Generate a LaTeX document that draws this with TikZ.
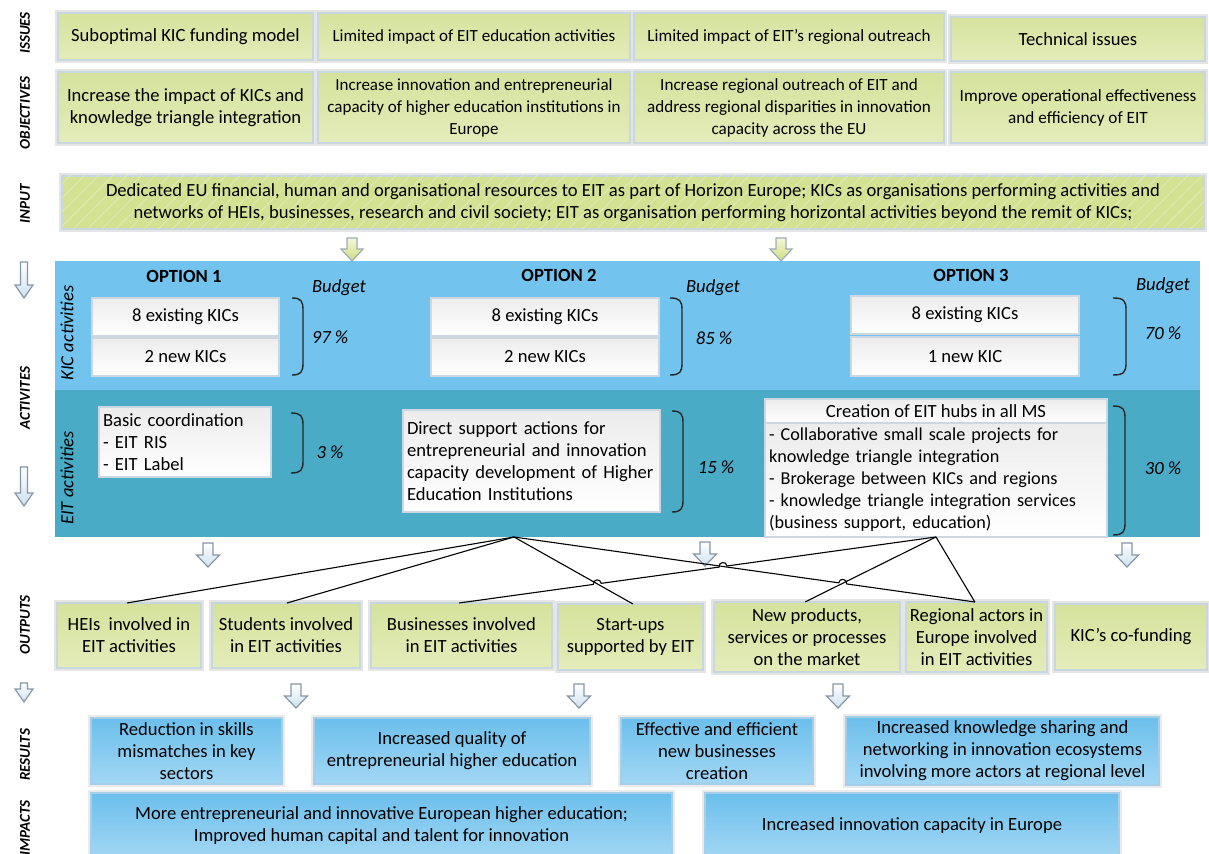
\documentclass[tikz,border=0pt]{standalone}
\usepackage{fontspec}
\setmainfont{Carlito}
\usetikzlibrary{calc,patterns.meta}

\definecolor{gtop}{RGB}{213,226,156}
\definecolor{gbot}{RGB}{228,236,186}
\definecolor{gedge}{RGB}{200,214,224}
\definecolor{kicblue}{RGB}{114,195,238}
\definecolor{eitteal}{RGB}{74,171,198}
\definecolor{btop}{RGB}{108,191,236}
\definecolor{bbot}{RGB}{162,215,244}
\definecolor{bedge}{RGB}{165,207,232}
\definecolor{wtop}{RGB}{236,236,236}
\definecolor{wedge}{RGB}{205,215,225}
\definecolor{inputg}{RGB}{211,226,146}
\definecolor{hatch}{RGB}{222,233,176}
\definecolor{arrline}{RGB}{135,150,165}
\definecolor{arrfill}{RGB}{205,225,240}
\definecolor{garrtop}{RGB}{245,247,215}
\definecolor{garrbot}{RGB}{205,222,130}

\newcommand\mybox[7]{\node[#1, minimum width={(#5-#3)*0.5pt}, minimum height={(#6-#4)*0.5pt}] (#2) at ({(#3+#5)/2},{(#4+#6)/2}) {#7};}
\newcommand\mybrace[4]{\draw[brace] (#1,#2) .. controls (#4-2,#2) and (#4,#2+3) .. (#4,#2+12) -- (#4,#3-12) .. controls (#4,#3-3) and (#4-2,#3) .. (#1,#3);}
\newcommand\defhop[4]{%
  \coordinate (#1p) at ($(#2)!2pt!(#3)$);
  \coordinate (#1q) at ($(#2)!2pt!(#4)$);
  \coordinate (#1c) at ($(#1p)!2.7pt!90:(#2)$);
  \coordinate (#1d) at ($(#1q)!2.7pt!-90:(#2)$);}

\tikzset{
  base/.style={inner sep=2pt, outer sep=0pt, font=\fontsize{9.3}{11}\selectfont, align=center},
  sz/.style={font=\fontsize{#1}{11}\selectfont},
  gbox/.style={base, draw=gedge, line width=0.9pt, top color=gtop, bottom color=gbot,
    preaction={draw=black!10, line width=2.6pt}},
  inbox/.style={base, fill=inputg, draw=gedge, line width=0.9pt,
    preaction={draw=black!10, line width=2.6pt},
    postaction={pattern={Lines[angle=45, distance=5pt, line width=0.5pt]}, pattern color=hatch}},
  wbox/.style={base, draw=wedge, line width=0.7pt, top color=wtop, bottom color=white},
  wleft/.style={wbox, align=left},
  bbox/.style={base, draw=bedge, line width=1.4pt, top color=btop, bottom color=bbot,
    preaction={draw=black!8, line width=3pt}},
  region/.style={inner sep=0pt, outer sep=0pt, draw=none},
  lbl/.style={font=\fontsize{7.5}{9}\selectfont\bfseries\itshape, rotate=90, inner sep=0pt},
  vlbl/.style={font=\fontsize{9.3}{11}\selectfont\itshape, rotate=90, inner sep=0pt},
  ital/.style={font=\fontsize{9.3}{11}\selectfont\itshape, inner sep=0pt},
  opt/.style={font=\fontsize{9.3}{11}\selectfont\bfseries, inner sep=0pt},
  brace/.style={line width=0.7pt, draw=black!85},
  conn/.style={line width=0.55pt, draw=black},
  larrow/.style={draw=arrline, line width=0.6pt, top color=white, bottom color=arrfill},
  sarrow/.style={draw=arrline, line width=0.6pt, top color=white, bottom color=arrfill},
  garrow/.style={draw=arrline!80, line width=0.6pt, top color=garrtop, bottom color=garrbot},
  pics/larr/.style={code={\draw[larrow] (-3.5,0) -- (3.5,0) -- (3.5,#1-13) -- (9,#1-13) -- (0,#1) -- (-9,#1-13) -- (-3.5,#1-13) -- cycle;}},
  pics/sarr/.style={code={\draw[sarrow] (-5,0) -- (5,0) -- (5,12) -- (11.5,12) -- (0,24) -- (-11.5,12) -- (-5,12) -- cycle;}},
  pics/garr/.style={code={\draw[garrow] (-5,0) -- (5,0) -- (5,11) -- (11,11) -- (0,23) -- (-11,11) -- (-5,11) -- cycle;}}
}

\begin{document}
\begin{tikzpicture}[x=0.5pt,y=-0.5pt]
\useasboundingbox (0,0) rectangle (1209,854);

% activity regions
\mybox{region,fill=kicblue}{kicreg}{55}{261}{1200}{390}{}
\mybox{region,fill=eitteal}{eitreg}{55}{390}{1200}{537}{}

% left labels
\node[lbl] (lIss) at (25,33) {ISSUES};
\node[lbl] (lObj) at (25,113) {OBJECTIVES};
\node[lbl] (lInp) at (25,204) {INPUT};
\node[lbl] (lAct) at (25,398) {ACTIVITES};
\node[lbl] (lOut) at (25,625) {OUTPUTS};
\node[lbl] (lRes) at (25,755) {RESULTS};
\node[lbl] (lImp) at (25,828) {IMPACTS};

% issues
\mybox{gbox}{i1}{58}{13}{313}{60}{Suboptimal KIC funding model}
\mybox{gbox,sz=8.5}{i2}{318}{13}{630}{60}{Limited impact of EIT education activities}
\mybox{gbox,sz=8.55}{i3}{634}{13}{944}{60}{Limited impact of EIT’s regional outreach}
\mybox{gbox}{i4}{951}{17}{1205}{61}{Technical issues}

% objectives
\mybox{gbox}{o1}{58}{72}{313}{143}{Increase the impact of KICs and\\knowledge triangle integration}
\mybox{gbox,sz=8.5}{o2}{318}{72}{630}{143}{Increase innovation and entrepreneurial\\capacity of higher education institutions in\\Europe}
\mybox{gbox,sz=8.55}{o3}{634}{72}{944}{143}{Increase regional outreach of EIT and\\address regional disparities in innovation\\capacity across the EU}
\mybox{gbox,sz=8.6}{o4}{951}{72}{1205}{143}{Improve operational effectiveness\\and efficiency of EIT}

% input
\mybox{inbox}{inp}{62}{176}{1204}{229}{Dedicated EU financial, human and organisational resources to EIT as part of Horizon Europe; KICs as organisations performing activities and\\networks of HEIs, businesses, research and civil society; EIT as organisation performing horizontal activities beyond the remit of KICs;}

% arrows
\pic at (352,238) {garr};
\pic at (781,238) {garr};
\pic at (24,262) {larr=36};
\pic at (24,467) {larr=39};
\pic at (24,683) {larr=19};

% vertical region labels
\node[vlbl] (lKic) at (67,333) {KIC activities};
\node[vlbl] (lEit) at (67,478) {EIT activities};

% option headings
\node[opt] (h1) at (184,276) {OPTION 1};
\node[opt] (h2) at (559,275) {OPTION 2};
\node[opt] (h3) at (971,275) {OPTION 3};
\node[ital] (bu1) at (339,288) {Budget};
\node[ital] (bu2) at (713,288) {Budget};
\node[ital] (bu3) at (1163,286) {Budget};

% KIC boxes
\mybox{wbox}{k1a}{92}{298}{279}{336}{8 existing KICs}
\mybox{wbox}{k1b}{92}{338}{279}{376}{2 new KICs}
\mybox{wbox}{k2a}{431}{298}{659}{336}{8 existing KICs}
\mybox{wbox}{k2b}{431}{338}{659}{376}{2 new KICs}
\mybox{wbox}{k3a}{851}{296}{1079}{334}{8 existing KICs}
\mybox{wbox}{k3b}{851}{337}{1079}{376}{1 new KIC}

\mybrace{292}{298}{375}{303}
\mybrace{670}{298}{375}{682}
\mybrace{1113}{298}{375}{1126}
\node[ital] (p1) at (330,337) {97 \%};
\node[ital] (p2) at (714,338) {85 \%};
\node[ital] (p3) at (1163,333) {70 \%};

% EIT boxes
\mybox{wleft,text width=82pt}{o1e}{99}{407}{271}{477}{Basic coordination\\- EIT RIS\\- EIT Label}
\mybox{wleft,text width=124.5pt}{o2e}{403}{410}{660}{512}{Direct support actions for\\entrepreneurial and innovation\\capacity development of Higher\\Education Institutions}
\mybox{wbox}{o3h}{765}{399}{1107}{423}{Creation of EIT hubs in all MS}
\mybox{wleft,text width=167pt,sz=9.1}{o3b}{765}{423}{1107}{537}{- Collaborative small scale projects for\\knowledge triangle integration\\- Brokerage between KICs and regions\\- knowledge triangle integration services\\(business support, education)}

\mybrace{291}{413}{473}{303}
\mybrace{672}{411}{512}{683}
\mybrace{1113}{406}{535}{1125}
\node[ital] (p4) at (330,452) {3 \%};
\node[ital] (p5) at (716,467) {15 \%};
\node[ital] (p6) at (1163,468) {30 \%};

\pic at (208,543) {sarr};
\pic at (705,542) {sarr};
\pic at (1127,543) {sarr};

% outputs
\mybox{gbox}{out1}{57}{603}{201}{668}{HEIs~ involved in\\EIT activities}
\mybox{gbox}{out2}{212}{603}{360}{668}{Students involved\\in EIT activities}
\mybox{gbox}{out3}{371}{603}{552}{668}{Businesses involved\\in EIT activities}
\mybox{gbox}{out4}{558}{604}{703}{670}{Start-ups\\supported by EIT}
\mybox{gbox}{out5}{714}{602}{900}{672}{New products,\\services or processes\\on the market}
\mybox{gbox}{out6}{906}{602}{1047}{672}{Regional actors in\\Europe involved\\in EIT activities}
\mybox{gbox}{out7}{1055}{604}{1207}{670}{KIC’s co-funding}

% connectors
\coordinate (a2) at ($(eitreg.south west)+(459,0)$);
\coordinate (a3) at (o3b.south);
\coordinate (heT) at ($(out1.north west)+(70,0)$);
\coordinate (stT) at ($(out2.north west)+(75,0)$);
\coordinate (buT) at ($(out3.north west)+(88,0)$);
\coordinate (suT) at ($(out4.north west)+(75,0)$);
\coordinate (npT) at ($(out5.north west)+(91,0)$);
\coordinate (reT) at ($(out6.north west)+(69,0)$);
\coordinate (X1) at (intersection of a3--buT and a2--reT);
\coordinate (X2) at (intersection of a3--buT and a2--suT);
\coordinate (X3) at (intersection of a3--npT and a2--reT);
\defhop{h1}{X1}{buT}{a3}
\defhop{h2}{X2}{buT}{a3}
\defhop{h3}{X3}{a2}{reT}

\draw[conn] (a2) -- (heT);
\draw[conn] (a2) -- (stT);
\draw[conn] (a2) -- (suT);
\draw[conn] (a2) -- (h3p) .. controls (h3c) and (h3d) .. (h3q) -- (reT);
\draw[conn] (buT) -- (h2p) .. controls (h2c) and (h2d) .. (h2q) -- (h1p) .. controls (h1c) and (h1d) .. (h1q) -- (a3);
\draw[conn] (a3) -- (npT);
\draw[conn] (a3) -- (reT);

\pic at (296,684) {sarr};
\pic at (579,684) {sarr};
\pic at (838,684) {sarr};

% results
\mybox{bbox}{r1}{91}{718}{282}{784}{Reduction in skills\\mismatches in key\\sectors}
\mybox{bbox}{r2}{314}{718}{590}{784}{Increased quality of\\entrepreneurial higher education}
\mybox{bbox}{r3}{621}{718}{813}{784}{Effective and efficient\\new businesses\\creation}
\mybox{bbox}{r4}{846}{718}{1159}{784}{Increased knowledge sharing and\\networking in innovation ecosystems\\involving more actors at regional level}

% impacts
\mybox{bbox}{m1}{91}{793}{672}{858}{More entrepreneurial and innovative European higher education;\\Improved human capital and talent for innovation}
\mybox{bbox}{m2}{705}{793}{1119}{858}{Increased innovation capacity in Europe}
\end{tikzpicture}
\end{document}
